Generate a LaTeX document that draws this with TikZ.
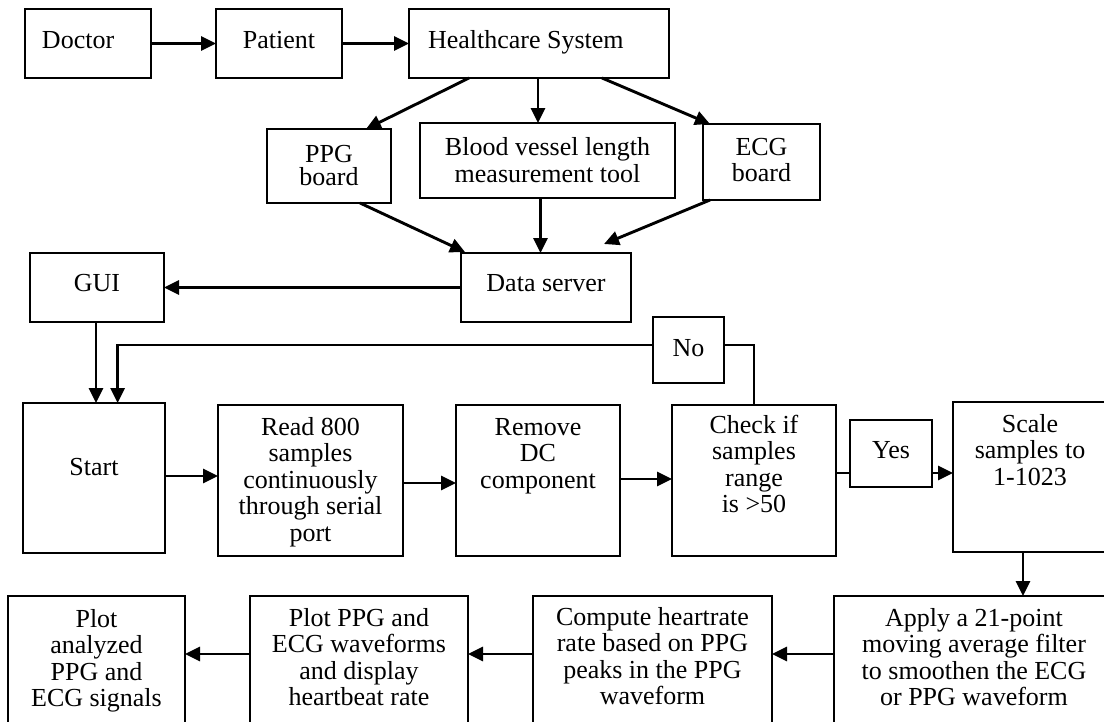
\documentclass[tikz,border=0pt]{standalone}
\usepackage{fontspec}
\setmainfont{Liberation Serif}
\usetikzlibrary{arrows.meta,calc}
\newcommand{\bx}[4]{\parbox[c][#2pt][t]{#1pt}{\centering\rule{0pt}{#3pt}#4\par}}
\begin{document}
\begin{tikzpicture}[x=1pt,y=-1pt,
  font=\fontsize{26}{26.5}\selectfont,
  box/.style={draw, line width=1.3pt, inner sep=0pt, outer sep=0pt},
  arr/.style={line width=2.9pt, -{Triangle[length=15pt,width=14pt]}},
  ln/.style={line width=2.9pt}]
\useasboundingbox (0,0) rectangle (1104,721);

% top row
\node[box] (doctor)  at (88,43.5)   {\bx{126}{69}{39}{\hspace*{17pt}Doctor\hfill\mbox{}}};
\node[box] (patient) at (279,43.5)  {\bx{126}{69}{39}{Patient}};
\node[box] (hc)      at (539,43.5)  {\bx{260}{69}{39}{\hspace*{19pt}Healthcare System\hfill\mbox{}}};

% boards
\node[box] (ppg) at (329,166)   {\bx{124}{74}{33}{PPG\\[-3pt]board}};
\node[box] (bv)  at (547.5,160.5) {\bx{255}{75}{32}{Blood vessel length\\[1pt]measurement tool}};
\node[box] (ecg) at (761.5,162) {\bx{117}{76}{31}{ECG\\board}};

% server and GUI
\node[box] (ds)  at (546,287.5) {\bx{170}{69}{38}{Data server}};
\node[box] (gui) at (97,287.5)  {\bx{134}{69}{38}{GUI}};
\node[box] (no)  at (688.5,350) {\bx{71}{66}{39}{No}};

% middle row
\node[box] (start)  at (94,478)     {\bx{142}{150}{72}{Start}};
\node[box] (read)   at (310.5,480.5) {\bx{185}{151}{30}{Read 800\\samples\\continuously\\through serial\\port}};
\node[box] (remove) at (538,480.5)  {\bx{164}{151}{30}{Remove\\DC\\component}};
\node[box] (check)  at (754,480.5)  {\bx{164}{151}{28}{Check if\\samples\\range\\is >50}};
\node[box] (yes)    at (891,453.5)  {\bx{82}{67}{38.5}{Yes}};
\node[box] (scale)  at (1030,477)   {\bx{154}{150}{30}{Scale\\samples to\\1-1023}};

% bottom row
\node[box] (plota)   at (96.5,668) {\bx{177}{144}{31}{Plot\\analyzed\\PPG and\\ECG signals}};
\node[box] (plotp)   at (359,668)  {\bx{218}{144}{30}{Plot PPG and\\ECG waveforms\\and display\\heartbeat rate}};
\node[box] (compute) at (652.5,668) {\bx{239}{144}{29}{Compute heartrate\\rate based on PPG\\peaks in the PPG\\waveform}};
\node[box] (apply)   at (974,668)  {\bx{280}{144}{30}{Apply a 21-point\\moving average filter\\to smoothen the ECG\\or PPG waveform}};

% connectors
\draw[arr] (doctor.east) -- (patient.west);
\draw[arr] (patient.east) -- (hc.west);
\draw[arr] ($(hc.south)+(-70,0)$) -- ($(ppg.north)+(37,0)$);
\draw[arr] ($(hc.south)+(-1,0)$) -- ($(bv.north)+(-9.5,0)$);
\draw[arr] ($(hc.south)+(63,0)$) -- ($(ecg.north west)+(7,0)$);
\draw[arr] ($(ppg.south)+(31,0)$) -- ($(ds.north west)+(4,-1)$);
\draw[arr] ($(bv.south)+(-7,0)$) -- ($(ds.north)+(-5.5,0)$);
\draw[arr] ($(ecg.south west)+(7,0)$) -- ($(ds.north east)+(-27,-9)$);
\draw[arr] (ds.west) -- (gui.east);
\draw[arr] ($(gui.south)+(-1,0)$) -- ($(start.north)+(2,0)$);
\draw[ln] (check.north) |- ($(no.east)+(0,-5)$);
\draw[arr] ($(no.west)+(0,-5)$) -| ($(start.north)+(23.6,0)$);
\draw[arr] ($(start.east)+(0,-2)$) -- ($(read.west)+(0,-4.5)$);
\draw[arr] ($(read.east)+(0,2.5)$) -- ($(remove.west)+(0,2.5)$);
\draw[arr] ($(remove.east)+(0,-1.5)$) -- ($(check.west)+(0,-1.5)$);
\draw[ln] ($(check.east)+(0,-7.5)$) -- ($(yes.west)+(0,19.5)$);
\draw[arr] ($(yes.east)+(0,19.5)$) -- ($(scale.west)+(0,-4)$);
\draw[arr] ($(scale.south)+(-7,0)$) -- ($(apply.north)+(49,0)$);
\draw[arr] ($(apply.west)+(0,-14)$) -- ($(compute.east)+(0,-14)$);
\draw[arr] ($(compute.west)+(0,-14)$) -- ($(plotp.east)+(0,-14)$);
\draw[arr] ($(plotp.west)+(0,-14)$) -- ($(plota.east)+(0,-14)$);
\end{tikzpicture}
\end{document}
